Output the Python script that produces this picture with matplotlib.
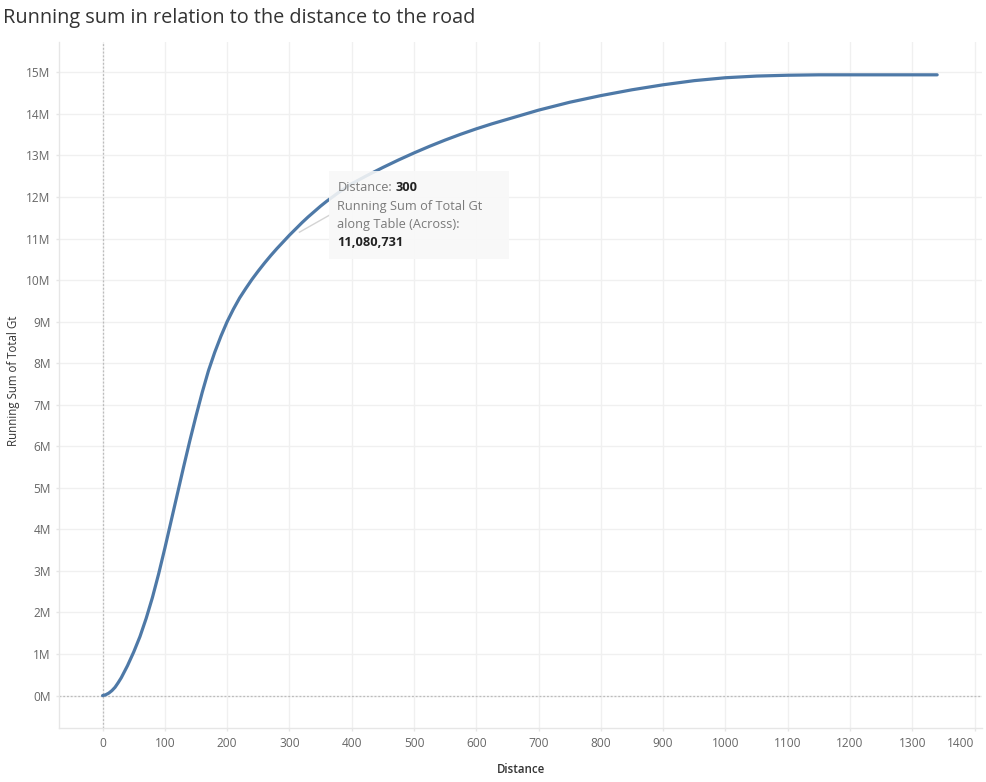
import matplotlib
matplotlib.use("Agg")
import matplotlib.pyplot as plt
import matplotlib.ticker as mticker
from matplotlib.patches import Rectangle
from matplotlib.lines import Line2D
from matplotlib.transforms import IdentityTransform

# distance to the road and running sum of total Gt in millions
distance = [0, 5, 10, 15, 20, 25, 30, 40, 50, 60, 70, 80, 90, 100, 110, 120,
            130, 140, 150, 160, 170, 180, 190, 200, 210, 220, 230, 240, 250,
            260, 270, 280, 290, 300, 310, 320, 330, 340, 350, 360, 370, 380,
            390, 400, 425, 450, 475, 500, 525, 550, 575, 600, 625, 650, 675,
            700, 750, 800, 850, 900, 950, 1000, 1050, 1100, 1150, 1200, 1250,
            1300, 1340]
running_sum_m = [0.0, 0.02, 0.06, 0.12, 0.2, 0.31, 0.43, 0.72, 1.05, 1.42,
                 1.86, 2.36, 2.93, 3.55, 4.2, 4.85, 5.5, 6.13, 6.73, 7.3, 7.82,
                 8.26, 8.65, 9.0, 9.3, 9.57, 9.8, 10.02, 10.22, 10.41, 10.59,
                 10.76, 10.92, 11.080731, 11.23, 11.38, 11.52, 11.65, 11.78,
                 11.9, 12.01, 12.12, 12.22, 12.32, 12.52, 12.71, 12.89, 13.06,
                 13.22, 13.37, 13.51, 13.64, 13.76, 13.87, 13.98, 14.09, 14.28,
                 14.44, 14.58, 14.7, 14.8, 14.87, 14.91, 14.93, 14.94, 14.94,
                 14.94, 14.94, 14.94]
running_sum = [v * 1e6 for v in running_sum_m]

x_ticks = list(range(0, 1401, 100))
y_ticks = [i * 1e6 for i in range(0, 16)]

tip_distance = 300
tip_value = 11080731

plt.rcParams["font.family"] = ["Open Sans", "DejaVu Sans"]

fig = plt.figure(figsize=(9.86, 7.82), dpi=100)
ax = fig.add_axes([59 / 986, 54 / 782, (982 - 59) / 986, (728 - 42) / 782])

ax.plot(distance, running_sum, color="#4e79a7", lw=2.3,
        solid_capstyle="round", solid_joinstyle="round", zorder=3)

ax.set_xlim(-70, 1412)
ax.set_ylim(-0.78e6, 15.73e6)
ax.set_xticks(x_ticks)
ax.set_yticks(y_ticks)
ax.yaxis.set_major_formatter(
    mticker.FuncFormatter(lambda v, _: "{}M".format(int(round(v / 1e6))))
)

ax.grid(True, color="#f0f0f0", lw=1)
ax.set_axisbelow(True)
for side in ("top", "right"):
    ax.spines[side].set_visible(False)
for side in ("left", "bottom"):
    ax.spines[side].set_color("#e6e6e6")
    ax.spines[side].set_linewidth(1)
ax.tick_params(axis="both", length=2.5, width=1, color="#e6e6e6",
               labelcolor="#666666", labelsize=8.6)
ax.tick_params(axis="y", pad=3.5)
ax.tick_params(axis="x", pad=4)
# last label is pulled inside the view, as in the original
last = ax.get_xticklabels()[-1]
last.set_horizontalalignment("right")

# zero reference lines
ax.axhline(0, color="#bcbcbc", lw=0.9, ls=(0, (1.5, 1.5)), zorder=2)
ax.axvline(0, color="#bcbcbc", lw=0.9, ls=(0, (1.5, 1.5)), zorder=2)

ax.set_xlabel("Distance", fontsize=8.3, color="#333333",
              fontweight="semibold", labelpad=9)
fig.text(14 / 986, 1 - 381 / 782, "Running Sum of Total Gt", rotation=90,
         fontsize=8.3, color="#333333", va="center", ha="center")

fig.text(3 / 986, 1 - 18 / 782, "Running sum in relation to the distance to the road",
         fontsize=14.3, color="#333333", va="center", ha="left")

# tooltip for the hovered point
px, py = ax.transData.transform((tip_distance, tip_value))
box_left = px + 40
box_top = py + 64
box_w, box_h = 180, 88
fig.lines.append(Line2D([px + 10, box_left], [py + 3, py + 20],
                        transform=IdentityTransform(), color="#d4d4d4", lw=1,
                        zorder=4))
fig.patches.append(Rectangle((box_left, box_top - box_h), box_w, box_h,
                             transform=IdentityTransform(), facecolor="#f8f8f8",
                             edgecolor="none", alpha=0.88, zorder=5))

tx = box_left + 8
line_ys = [box_top - 16, box_top - 35, box_top - 53, box_top - 71]
grey = "#7a7a7a"
dark = "#222222"
fs = 9.2
t1 = fig.text(tx, line_ys[0], "Distance:", transform=IdentityTransform(),
              fontsize=fs, color=grey, va="center", zorder=6)
renderer = fig.canvas.get_renderer()
t1_end = t1.get_window_extent(renderer).x1
fig.text(t1_end + 3.5, line_ys[0], str(tip_distance), transform=IdentityTransform(),
         fontsize=fs, color=dark, fontweight="bold", va="center", zorder=6)
fig.text(tx, line_ys[1], "Running Sum of Total Gt", transform=IdentityTransform(),
         fontsize=fs, color=grey, va="center", zorder=6)
fig.text(tx, line_ys[2], "along Table (Across):", transform=IdentityTransform(),
         fontsize=fs, color=grey, va="center", zorder=6)
fig.text(tx, line_ys[3], "{:,}".format(tip_value), transform=IdentityTransform(),
         fontsize=fs, color=dark, fontweight="bold", va="center", zorder=6)

fig.savefig("out.png", dpi=100)
